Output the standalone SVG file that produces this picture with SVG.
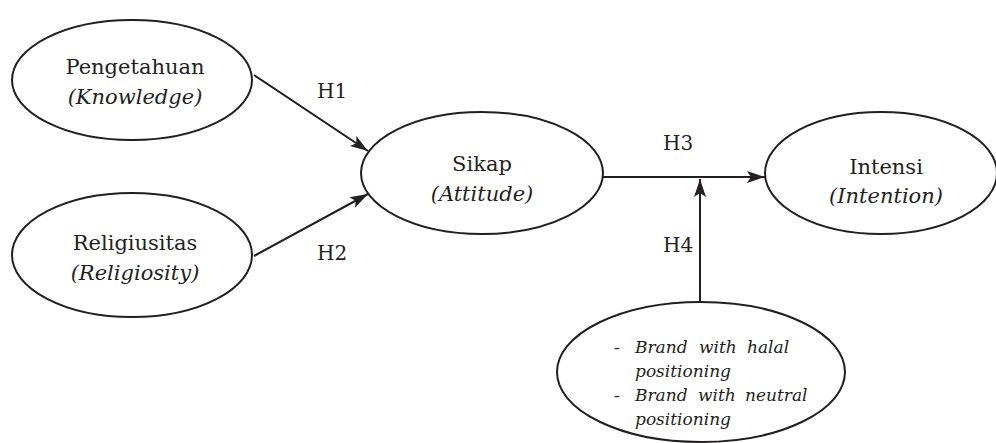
<svg xmlns="http://www.w3.org/2000/svg" width="996" height="443" viewBox="0 0 996 443">
<style>
.node ellipse{fill:#fff;stroke:#231f20;stroke-width:2}
.t{font-family:"DejaVu Serif","Liberation Serif",serif;font-size:21px;fill:#231f20;text-anchor:middle}
.i{font-style:italic}
.h{font-family:"DejaVu Serif","Liberation Serif",serif;font-size:20px;fill:#231f20}
.b{font-family:"DejaVu Serif","Liberation Serif",serif;font-size:17px;font-style:italic;fill:#231f20}
.edge{stroke:#231f20;stroke-width:2;fill:none}
</style>
<defs>
<marker id="arr" viewBox="0 0 18 12" refX="18" refY="6" markerWidth="18" markerHeight="12" markerUnits="userSpaceOnUse" orient="auto">
<path d="M0,0 L18,6 L0,12 L4,6 Z" fill="#231f20"/>
</marker>
</defs>
<rect width="996" height="443" fill="#fff"/>
<g id="connectors">
<line class="edge" x1="254" y1="75" x2="368" y2="151" marker-end="url(#arr)"/>
<line class="edge" x1="254" y1="256" x2="368" y2="194" marker-end="url(#arr)"/>
<line class="edge" x1="603" y1="177" x2="765" y2="177" marker-end="url(#arr)"/>
<line class="edge" x1="700" y1="303" x2="700" y2="179" marker-end="url(#arr)"/>
<text class="h" x="317" y="98">H1</text>
<text class="h" x="317" y="260">H2</text>
<text class="h" x="663" y="150">H3</text>
<text class="h" x="663" y="252">H4</text>
</g>
<g id="pengetahuan" class="node">
<ellipse cx="132" cy="80" rx="120" ry="60"/>
<text class="t" x="135" y="74">Pengetahuan</text>
<text class="t i" x="135" y="104">(Knowledge)</text>
</g>
<g id="religiusitas" class="node">
<ellipse cx="132" cy="255" rx="120" ry="62"/>
<text class="t" x="135" y="250">Religiusitas</text>
<text class="t i" x="135" y="280">(Religiosity)</text>
</g>
<g id="sikap" class="node">
<ellipse cx="482" cy="173" rx="121" ry="61"/>
<text class="t" x="482" y="171">Sikap</text>
<text class="t i" x="482" y="201">(Attitude)</text>
</g>
<g id="intensi" class="node">
<ellipse cx="881" cy="173" rx="116" ry="61"/>
<text class="t" x="886" y="174">Intensi</text>
<text class="t i" x="886" y="203">(Intention)</text>
</g>
<g id="brand" class="node">
<ellipse cx="701" cy="372" rx="144" ry="70"/>
<text class="b"><tspan x="614" y="353">-</tspan><tspan x="635" y="353">Brand</tspan><tspan x="699" y="353">with</tspan><tspan x="747" y="353">halal</tspan></text>
<text class="b" x="635" y="377">positioning</text>
<text class="b"><tspan x="614" y="401">-</tspan><tspan x="635" y="401">Brand</tspan><tspan x="698" y="401">with</tspan><tspan x="745" y="401">neutral</tspan></text>
<text class="b" x="635" y="425">positioning</text>
</g>
</svg>
